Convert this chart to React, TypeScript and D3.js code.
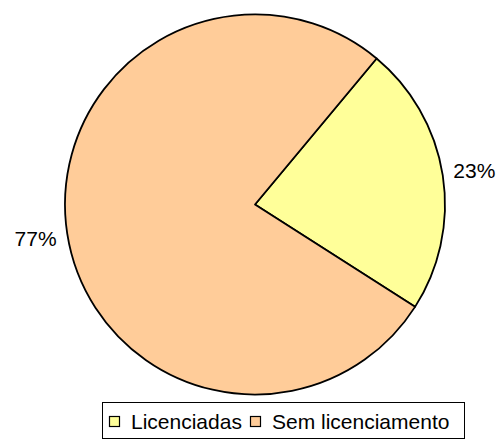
import React, { useEffect, useRef } from "react";
import * as d3 from "d3";

const categories = ["Licenciadas", "Sem licenciamento"];
const values = [23, 77];
const colors = ["#FFFF99", "#FFCC99"];

const App: React.FC = () => {
  const svgRef = useRef<SVGSVGElement | null>(null);

  useEffect(() => {
    const svg = d3.select(svgRef.current);
    svg.selectAll("*").remove();

    const width = 496;
    const height = 440;
    const cx = 255;
    const cy = 204.5;
    const radius = 190;
    const startDeg = 39.8;

    const pie = d3
      .pie<number>()
      .sort(null)
      .startAngle((startDeg * Math.PI) / 180)
      .endAngle(((startDeg + 360) * Math.PI) / 180);

    const arcs = pie(values);
    const arc = d3.arc<d3.PieArcDatum<number>>().innerRadius(0).outerRadius(radius);
    const labelArc = d3
      .arc<d3.PieArcDatum<number>>()
      .innerRadius(222)
      .outerRadius(222);

    const g = svg.append("g").attr("transform", `translate(${cx},${cy})`);

    // Slices
    g.selectAll("path")
      .data(arcs)
      .join("path")
      .attr("d", arc)
      .attr("fill", (_d, i) => colors[i])
      .attr("stroke", "#000")
      .attr("stroke-width", 1.8)
      .attr("stroke-linejoin", "round");

    // Percentage labels
    const total = d3.sum(values);
    g.selectAll("text.pct")
      .data(arcs)
      .join("text")
      .attr("class", "pct")
      .attr("x", (d) => labelArc.centroid(d)[0])
      .attr("y", (d) => labelArc.centroid(d)[1])
      .attr("text-anchor", "middle")
      .attr("dominant-baseline", "central")
      .style("font-family", "'Liberation Sans', Arial, sans-serif")
      .style("font-size", "21px")
      .attr("fill", "#000")
      .text((d) => `${Math.round((d.value / total) * 100)}%`);

    // Legend
    const legend = svg.append("g");
    legend
      .append("rect")
      .attr("x", 102.5)
      .attr("y", 402.5)
      .attr("width", 362)
      .attr("height", 36)
      .attr("fill", "#fff")
      .attr("stroke", "#000")
      .attr("stroke-width", 1);

    const legendX = [109, 250];
    const items = legend
      .selectAll("g.item")
      .data(categories)
      .join("g")
      .attr("class", "item")
      .attr("transform", (_d, i) => `translate(${legendX[i]},0)`);

    items
      .append("rect")
      .attr("x", 0.5)
      .attr("y", 416.5)
      .attr("width", 10)
      .attr("height", 10)
      .attr("fill", (_d, i) => colors[i])
      .attr("stroke", "#000")
      .attr("stroke-width", 1.2);

    items
      .append("text")
      .attr("x", 22)
      .attr("y", 429)
      .style("font-family", "'Liberation Sans', Arial, sans-serif")
      .style("font-size", "21px")
      .attr("fill", "#000")
      .text((d) => d);

    svg.attr("width", width).attr("height", height);
  }, []);

  return (
    <div style={{ position: "absolute", left: 0, top: 0 }}>
      <svg ref={svgRef} style={{ display: "block" }}></svg>
    </div>
  );
};

export default App;
